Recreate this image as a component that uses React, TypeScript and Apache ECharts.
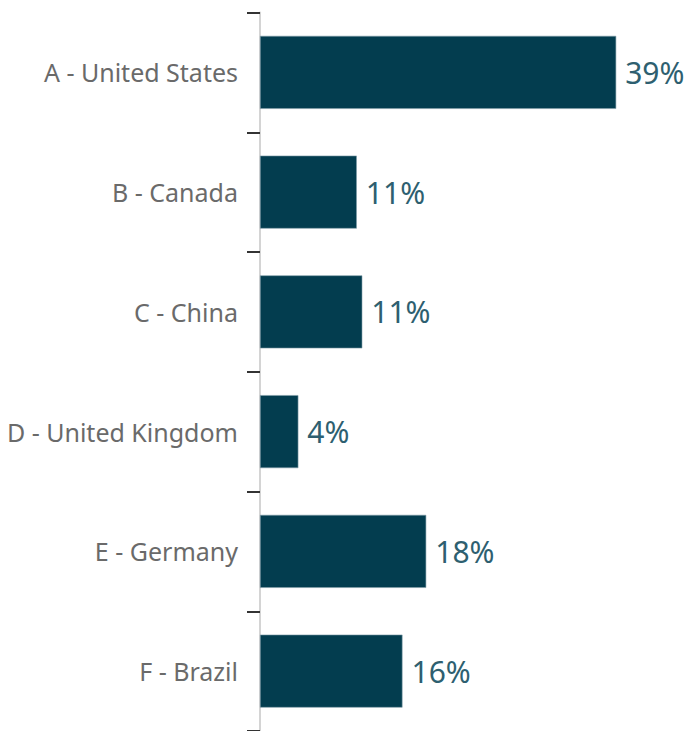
import React, { useEffect, useRef } from "react";
import * as echarts from "echarts";

const categories = [
  "A - United States",
  "B - Canada",
  "C - China",
  "D - United Kingdom",
  "E - Germany",
  "F - Brazil",
];
const shares = [39, 10.6, 11.2, 4.2, 18.2, 15.6];

export default function App() {
  const ref = useRef<HTMLDivElement>(null);
  useEffect(() => {
    if (!ref.current) return;
    const chart = echarts.init(ref.current, undefined, { renderer: "svg" });
    chart.setOption({
      animation: false,
      grid: { left: 260, right: 19, top: 12.5, bottom: -3.9, containLabel: false },
      xAxis: {
        type: "value",
        min: 0,
        max: 45,
        show: false,
      },
      yAxis: {
        type: "category",
        data: categories,
        inverse: true,
        axisLine: { show: true, lineStyle: { color: "#d4d4d4", width: 2 } },
        axisTick: {
          show: true,
          length: 13,
          alignWithLabel: false,
          lineStyle: { color: "#333333", width: 2 },
        },
        axisLabel: {
          margin: 22,
          color: "#6a6a6a",
          fontSize: 25,
          fontFamily: "Noto Sans",
        },
        splitLine: { show: false },
      },
      series: [
        {
          type: "bar",
          data: shares,
          barWidth: 73,
          itemStyle: { color: "#033d4f", borderColor: "#7f9ca8", borderWidth: 0.6 },
          label: {
            show: true,
            position: "right",
            distance: 9,
            color: "#2e5f70",
            fontSize: 30,
            fontFamily: "Noto Sans",
            formatter: (p: any) => Math.round(p.value) + "%",
          },
        },
      ],
    });
    return () => chart.dispose();
  }, []);
  return (
    <div
      ref={ref}
      style={{ position: "absolute", left: 0, top: 0, width: 690, height: 731, background: "#fff" }}
    />
  );
}
